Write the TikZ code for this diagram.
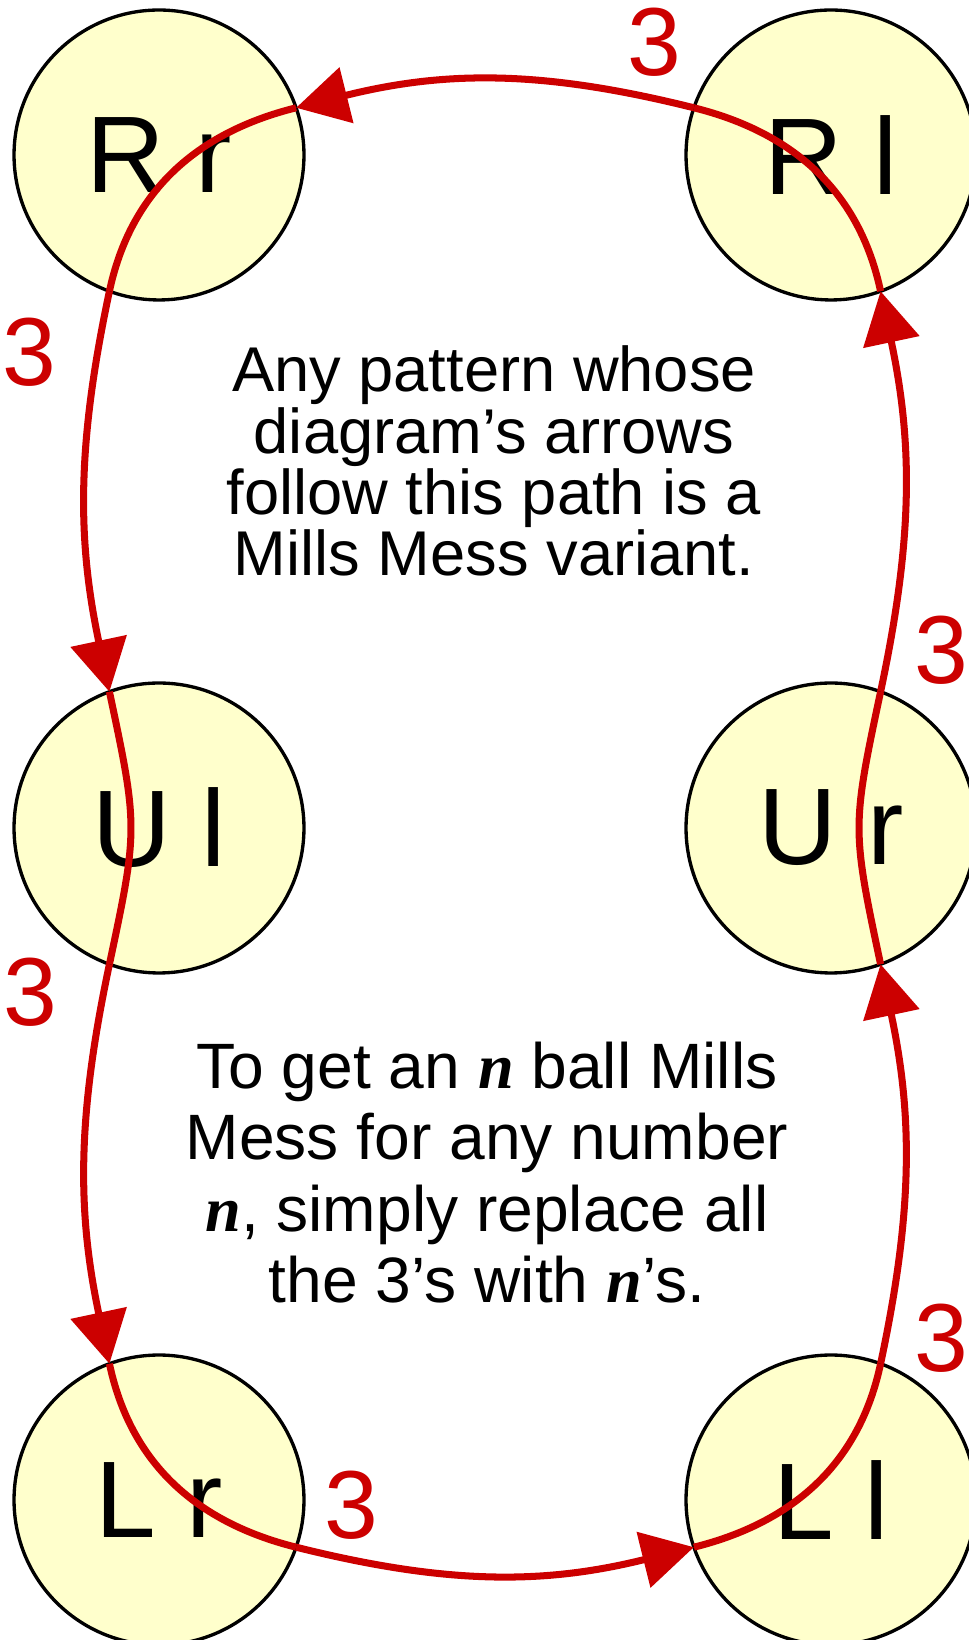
\documentclass[tikz,border=0pt]{standalone}
\usepackage{fontspec}
\setmainfont{Liberation Sans}
\newfontfamily\nserif{Liberation Serif}
\usetikzlibrary{arrows.meta}
\definecolor{pathred}{HTML}{CC0000}
\definecolor{ballfill}{HTML}{FFFFCC}
\newcommand{\nvar}{{\nserif\bfseries\itshape n}}
\begin{document}
\begin{tikzpicture}[x=0.02cm,y=0.02cm,
  state/.style={circle,draw,line width=1.9pt,fill=ballfill,inner sep=0pt,outer sep=0pt,
    minimum size=5.8cm,font=\fontsize{62}{62}\selectfont},
  throw/.style={draw=pathred,line width=4pt},
  arr/.style={throw,-{Triangle[length=1.04cm,width=1.12cm]}},
  count/.style={text=pathred,font=\fontsize{55}{55}\selectfont},
  note/.style={align=center,font=\fontsize{36}{34.8}\selectfont}]
  \clip (0,0) rectangle (969,1640);
  \foreach \name/\x/\y/\txt in {Rr/159/1485/R r,Rl/831/1485/R l,Ul/159/812/U l,
      Ur/831/812/U r,Lr/159/140/L r,Ll/831/140/L l}
    \node[state] (\name) at (\x,\y) {\txt};
  \draw[throw] (Rr.19) to[out=194,in=78] (Rr.-110);
  \draw[arr] (Rr.-110) to[out=-102,in=102] (Ul.110);
  \draw[throw] (Ul.110) to[out=-78,in=78,looseness=1.3] (Ul.-110);
  \draw[arr] (Ul.-110) to[out=-102,in=102] (Lr.110);
  \draw[throw] (Lr.110) to[out=-78,in=166] (Lr.-19);
  \draw[arr] (Lr.-19) to[out=-14,in=194] (Ll.-161);
  \draw[throw] (Ll.-161) to[out=14,in=-102] (Ll.70);
  \draw[arr] (Ll.70) to[out=78,in=-78] (Ur.-70);
  \draw[throw] (Ur.-70) to[out=102,in=-102,looseness=1.3] (Ur.70);
  \draw[arr] (Ur.70) to[out=78,in=-78] (Rl.-70);
  \draw[throw] (Rl.-70) to[out=102,in=-14] (Rl.161);
  \draw[arr] (Rl.161) to[out=166,in=14] (Rr.19);
  \node[count] (nTop) at (654,1598) {3};
  \node[count] (nLeftUp) at (29,1288) {3};
  \node[count] (nLeftLow) at (30,648) {3};
  \node[count] (nRightUp) at (941,990) {3};
  \node[count] (nRightLow) at (941,302) {3};
  \node[count] (nBottom) at (351,135) {3};
  \node[note] (upperNote) at (494,1179) {Any pattern whose\\diagram’s arrows\\follow this path is a\\Mills Mess variant.};
  \node[note,font=\fontsize{36.5}{40.7}\selectfont] (lowerNote) at (487,467.5)
    {To get an \nvar{} ball Mills\\Mess for any number\\\nvar, simply replace all\\the 3’s with \nvar’s.};
\end{tikzpicture}
\end{document}
